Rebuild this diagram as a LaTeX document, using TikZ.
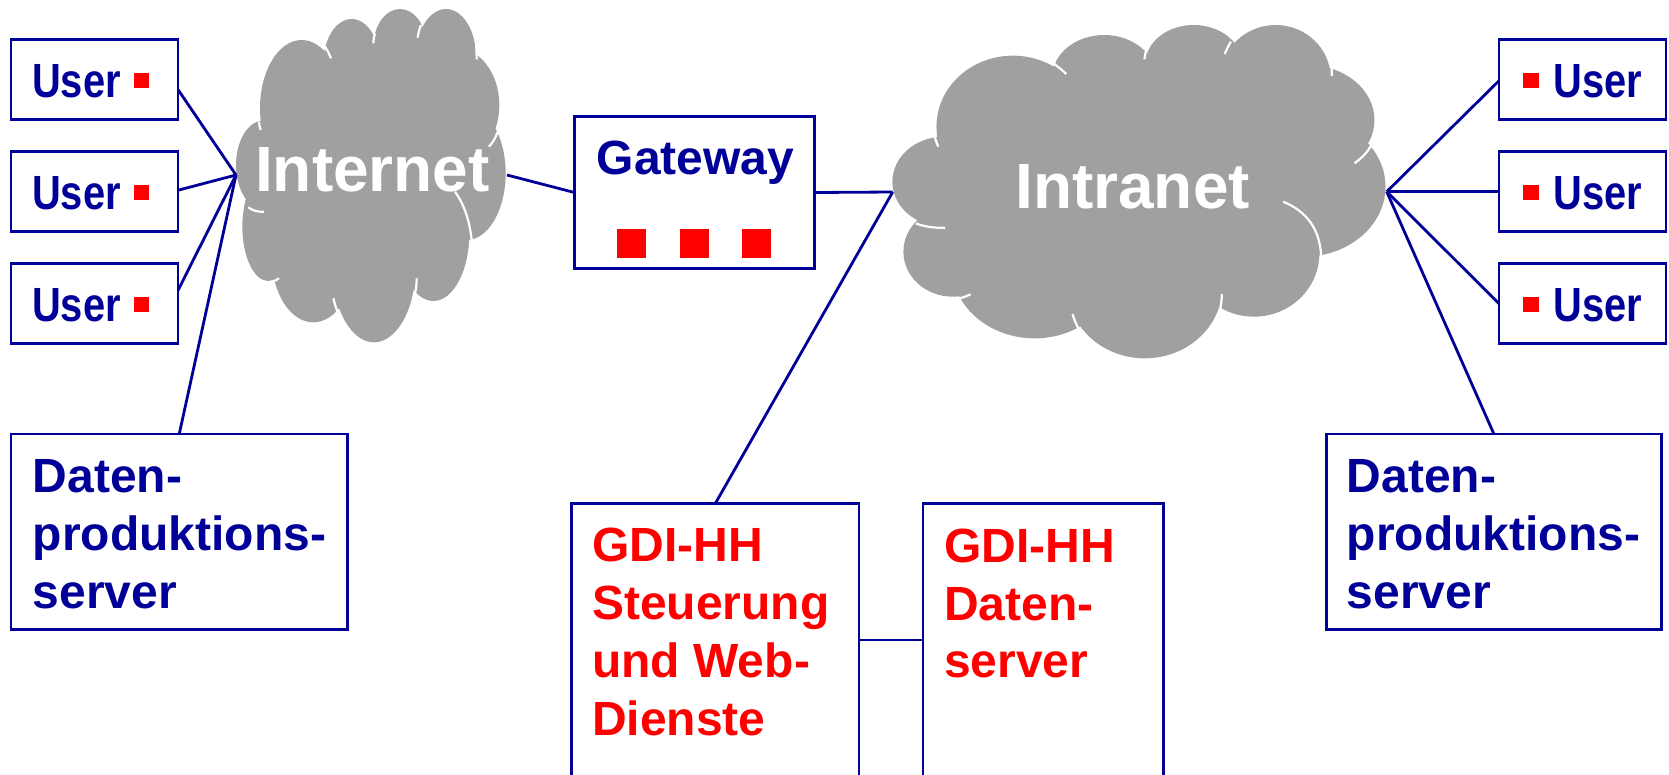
\documentclass[tikz,border=0pt]{standalone}
\usepackage{fontspec}
\usetikzlibrary{calc}
\setmainfont{Liberation Sans}
\newfontfamily\condfont[FakeStretch=0.83]{Liberation Sans}
\definecolor{navy}{HTML}{000099}
\definecolor{cloudgrey}{HTML}{A0A0A0}
\definecolor{signal}{HTML}{FF0000}
\tikzset{
  box/.style={draw=navy,line width=2.8pt,fill=white,inner sep=0pt,outer sep=0pt},
  link/.style={draw=navy,line width=2.8pt},
  lobe/.style={fill=cloudgrey,draw=none},
  crease/.style={draw=white,line width=2.2pt},
  dot/.style={fill=signal,draw=none,inner sep=0pt,outer sep=0pt},
  usertext/.style={text=navy,inner sep=0pt,anchor=base west,font=\condfont\bfseries\fontsize{48}{57.7}\selectfont},
  bluetext/.style={text=navy,inner sep=0pt,anchor=base west,align=left,font=\bfseries\fontsize{48}{57.7}\selectfont},
  redtext/.style={text=signal,inner sep=0pt,anchor=base west,align=left,font=\bfseries\fontsize{48}{57.7}\selectfont},
  cloudtext/.style={text=white,inner sep=0pt,anchor=base west,font=\bfseries\fontsize{64}{70}\selectfont},
}
\newcommand{\pxbox}[5]{\node[box,minimum width={(#4-#2)*1pt},minimum height={(#5-#3)*1pt}] (#1) at ({(#2+#4)/2},{(#3+#5)/2}) {};}
\newcommand{\pxdot}[5]{\node[dot,minimum width={(#4-#2)*1pt},minimum height={(#5-#3)*1pt}] (#1) at ({(#2+#4)/2},{(#3+#5)/2}) {};}
\newcommand{\lob}[4]{\fill[lobe] (#1,#2) ellipse [x radius=#3,y radius=#4];}
\newcommand{\crs}[6]{\draw[crease] (#1,#2) .. controls ($(#1,#2)!0.667!(#3,#4)$) and ($(#5,#6)!0.667!(#3,#4)$) .. (#5,#6);}
\begin{document}
\begin{tikzpicture}[x=1pt,y=-1pt]
\path[use as bounding box,clip] (0,0) rectangle (1669,774);
% Internet cloud
\begin{scope}[shift={(200,0)},x=0.33333pt,y=-0.33333pt]
\lob{510}{500}{290}{340}
\lob{305}{325}{125}{205}
\lob{455}{190}{85}{133}
\lob{600}{140}{80}{113}
\lob{738}{170}{90}{143}
\lob{770}{315}{128}{170}
\lob{800}{520}{117}{200}
\lob{700}{700}{108}{203}
\lob{522}{800}{125}{227}
\lob{340}{770}{125}{197}
\lob{205}{680}{78}{163}
\lob{190}{495}{82}{133}
\crs{375}{140}{385}{155}{393}{175}
\crs{525}{100}{520}{115}{520}{130}
\crs{663}{75}{655}{95}{653}{113}
\crs{827}{110}{830}{145}{830}{178}
\crs{893}{395}{885}{420}{867}{440}
\crs{765}{575}{805}{630}{815}{720}
\crs{650}{835}{650}{860}{645}{880}
\crs{400}{895}{405}{915}{412}{935}
\crs{215}{845}{228}{842}{237}{835}
\crs{145}{622}{165}{637}{192}{635}
\crs{177}{365}{178}{378}{182}{390}
\end{scope}
% Intranet cloud
\begin{scope}[shift={(870,0)},x=0.34435pt,y=-0.33333pt]
\lob{780}{560}{500}{320}
\lob{415}{380}{222}{213}
\lob{680}{230}{150}{125}
\lob{940}{190}{140}{115}
\lob{1178}{235}{160}{160}
\lob{1270}{360}{195}{165}
\lob{1260}{560}{237}{210}
\lob{1115}{760}{190}{190}
\lob{798}{860}{225}{215}
\lob{478}{800}{240}{215}
\lob{240}{755}{143}{135}
\lob{215}{545}{150}{135}
\crs{535}{192}{553}{205}{570}{222}
\crs{802}{150}{798}{165}{797}{178}
\crs{1048}{125}{1038}{143}{1030}{162}
\crs{1338}{170}{1341}{200}{1341}{228}
\crs{1455}{437}{1440}{465}{1407}{490}
\crs{1200}{605}{1305}{650}{1310}{768}
\crs{1022}{882}{1021}{905}{1017}{928}
\crs{588}{942}{595}{965}{605}{985}
\crs{262}{895}{278}{890}{292}{883}
\crs{133}{670}{170}{685}{218}{683}
\crs{188}{410}{192}{425}{198}{440}
\end{scope}
\node[cloudtext] (internet) at (255,191.7) {Internet};
\node[cloudtext] (intranet) at (1015,208.3) {Intranet};
% Boxes
\pxbox{ul1}{11}{39.3}{178}{119.3}
\pxbox{ul2}{11}{151.7}{178}{231.7}
\pxbox{ul3}{11}{263.7}{178}{343.5}
\pxbox{dl}{11}{434}{347.5}{629.3}
\pxbox{gw}{574.5}{116.7}{814.7}{268.3}
\pxbox{gs}{571.6}{503.5}{859}{776.5}
\pxbox{gd}{923}{503.5}{1163.5}{776.5}
\pxbox{ur1}{1499}{39.3}{1666}{119.3}
\pxbox{ur2}{1499}{151.7}{1666}{231.7}
\pxbox{ur3}{1499}{263.7}{1666}{343.5}
\pxbox{dr}{1326.3}{434}{1661.5}{629.3}
% Hubs
\coordinate (hubl) at (236,175);
\coordinate (hubm) at (892.7,192);
\coordinate (hubr) at (1386.7,191.7);
\coordinate (inetend) at (507,175);
% Connectors
\draw[link] (ul1.-7.5) -- (hubl);
\draw[link] (ul2.1.2) -- (hubl);
\draw[link] (ul3.9.9) -- (hubl);
\draw[link] (dl.north) -- (hubl);
\draw[link] (inetend) -- (gw.west);
\draw[link] (gw.east) -- (hubm);
\draw[link] (hubm) -- (gs.north);
\draw[link] (gs.east) -- (gd.west);
\draw[link] (hubr) -- (ur1.181.2);
\draw[link] (hubr) -- (ur2.west);
\draw[link] (hubr) -- (ur3.west);
\draw[link] (hubr) -- (dr.north);
% Red markers
\pxdot{dl1}{134}{72.7}{149}{87.7}
\pxdot{dl2}{134}{184.7}{149}{199.7}
\pxdot{dl3}{134}{296.7}{149}{311.7}
\pxdot{dr1}{1523.3}{72.5}{1539}{87.5}
\pxdot{dr2}{1523.3}{184.5}{1539}{199.5}
\pxdot{dr3}{1523.3}{296.5}{1539}{311.5}
\pxdot{g1}{617.3}{229.3}{646.3}{258.3}
\pxdot{g2}{680}{229.3}{709}{258.3}
\pxdot{g3}{742.3}{229.3}{771.3}{258.3}
% Text
\node[usertext] (tul1) at (32,97.5) {User};
\node[usertext] (tul2) at (32,209.5) {User};
\node[usertext] (tul3) at (32,321.5) {User};
\node[usertext] (tur1) at (1553.5,97.5) {User};
\node[usertext] (tur2) at (1553.5,209.5) {User};
\node[usertext] (tur3) at (1553.5,321.5) {User};
\node[bluetext] (tgw) at (596.5,174.5) {Gateway};
\node[bluetext] (tdl) at (32.5,608.3) {Daten-\\produktions-\\server};
\node[bluetext] (tdr) at (1346.5,608.3) {Daten-\\produktions-\\server};
\node[redtext] (tgs) at (592,735) {GDI-HH\\Steuerung\\und Web-\\Dienste};
\node[redtext] (tgd) at (944,677.7) {GDI-HH\\Daten-\\server};
\end{tikzpicture}
\end{document}
